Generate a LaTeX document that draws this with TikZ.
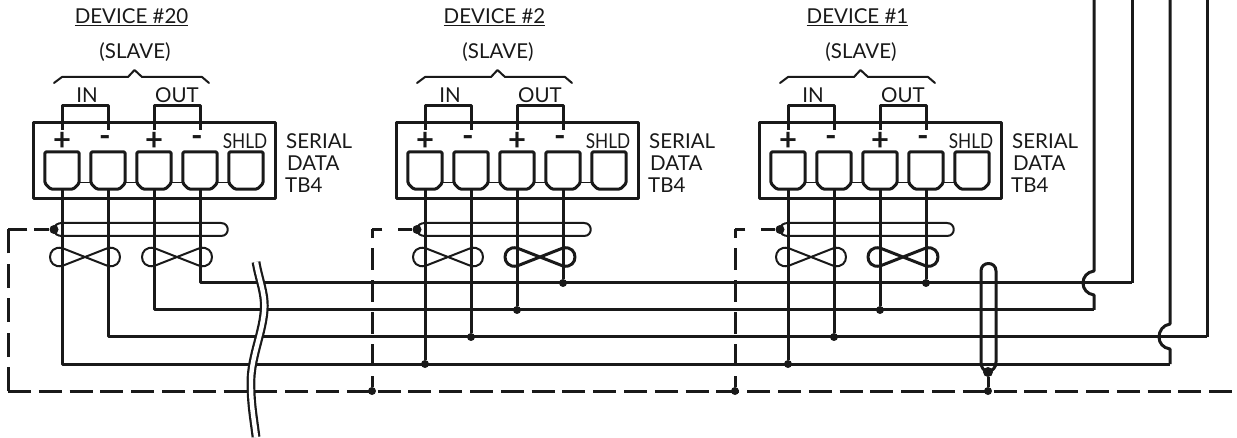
\documentclass[tikz,border=0pt]{standalone}
\usepackage{fontspec}
\setmainfont{Lato}
\begin{document}
\begin{tikzpicture}[x=1pt, y=-1pt, inner sep=0pt, line join=round, black!90,
  sigline/.style={draw, line width=3pt},
  thinline/.style={line width=2pt},
  dashline/.style={line width=3pt},
  junct/.style={circle, fill=black!90, minimum size=8pt},
  termbox/.style={minimum width=34pt, minimum height=37pt},
  big/.style={font=\fontsize{20.5}{20.5}\selectfont},
  sign/.style={font=\fontsize{31}{31}\selectfont\bfseries}]
\useasboundingbox (0,0) rectangle (1237,438);

% one device per shift
\foreach \d/\off/\num/\tw in {t/0/20/2,b/363/2/3,a/726/1/3}
{
\begin{scope}[shift={(\off,0)}]
\node[big] (title\d) at (131.5,17) {\underline{DEVICE \#\num}};
\node[big] (slave\d) at (135,52) {(SLAVE)};
\node[big] (in\d) at (87,95) {IN};
\node[big] (out\d) at (177,95) {OUT};
\draw[thinline, line cap=round] (54,83) -- (62,77) -- (128,77) -- (134.5,70) -- (142,77) -- (202,77) -- (209,83);

\node[draw, line width=3pt, minimum width=242pt, minimum height=76pt] (block\d) at (154,161) {};
\node[big, anchor=west] (ser\d) at (286,141) {SERIAL};
\node[big, anchor=west] (dat\d) at (287,163) {DATA};
\node[big, anchor=west] (tbf\d) at (285,185) {TB4};

\foreach \i/\x in {1/62,2/108,3/154,4/200,5/246}
{
\node[termbox] (term\d\i) at (\x,170.5) {};
\draw[line width=3pt, rounded corners=1.5pt] (term\d\i.north west) -- (term\d\i.north east) -- ([yshift=6pt]term\d\i.south east) -- ([xshift=-6pt]term\d\i.south east) -- ([xshift=6pt]term\d\i.south west) -- ([yshift=6pt]term\d\i.south west) -- cycle;
}
\foreach \i/\j in {1/2,2/3,3/4,4/5}
{
\draw[line width=1pt] ([yshift=-12.5pt]term\d\i.east) -- ([yshift=-12.5pt]term\d\j.west);
}
\node[sign] (plusa\d) at (62,141) {+};
\node[sign] (minusa\d) at (105,141) {-};
\node[sign] (plusb\d) at (154,141) {+};
\node[sign] (minusb\d) at (197,141) {-};
\node[big, xscale=.84, transform shape] (shld\d) at (245,141.5) {SHLD};

\coordinate (ina\d) at (62,130);
\coordinate (inb\d) at (108,130);
\coordinate (outa\d) at (154,130);
\coordinate (outb\d) at (200,130);
\draw[sigline] (ina\d) -- (62,106) -- (108,106) -- (inb\d);
\draw[sigline] (outa\d) -- (154,106) -- (200,106) -- (outb\d);

% shield sleeve and twists
\node[junct, minimum size=9pt] (drain\d) at (54,229.5) {};
\draw[thinline] (drain\d.center) .. controls (54,225) and (58,223) .. (62,223) -- (221,223) .. controls (230,223) and (230,236) .. (221,236) -- (62,236) .. controls (58,236) and (54,234) .. (drain\d.center);
\draw[thinline] (62,248) -- (108,266) .. controls (124,269) and (124,245) .. (108,248) -- (62,266) .. controls (46,269) and (46,245) .. (62,248);
\draw[line width=\tw pt] (154,248) -- (200,266) .. controls (216,269) and (216,245) .. (200,248) -- (154,266) .. controls (138,269) and (138,245) .. (154,248);
\end{scope}
}

% junctions on the bus
\foreach \d/\off in {b/363,a/726}
{
\node[junct] (ja\d) at (62+\off,364) {};
\node[junct] (jb\d) at (108+\off,337) {};
\node[junct] (jc\d) at (154+\off,310) {};
\node[junct] (jd\d) at (200+\off,283) {};
\node[junct] (js\d) at (9+\off,391) {};
\draw[sigline] (term\d1.south) -- (ja\d);
\draw[sigline] (term\d2.south) -- (jb\d);
\draw[sigline] (term\d3.south) -- (jc\d);
\draw[sigline] (term\d4.south) -- (jd\d);
\coordinate (drop\d) at (9+\off,229.5);
\draw[dashline, dash pattern=on 14pt off 16pt on 15pt off 0pt] (drain\d) -- (drop\d);
\draw[dashline, dash pattern=on 22pt off 10pt, dash phase=11pt] (js\d) -- (drop\d);
}

% far end of the bus
\coordinate (ea) at (1170,364);
\coordinate (eb) at (1094,310);
\coordinate (ec) at (1207,337);
\coordinate (ed) at (1132,283);
\coordinate (ta) at (1170,0);
\coordinate (tb) at (1094,0);
\coordinate (tc) at (1207,0);
\coordinate (td) at (1132,0);
\draw[sigline] (termt1.south) |- (ea);
\draw[sigline] (termt2.south) |- (ec);
\draw[sigline] (termt3.south) |- (eb);
\draw[sigline] (termt4.south) |- (ed);
\draw[sigline] (ed) -- (td);
\draw[sigline] (ec) -- (tc);
\draw[sigline] (tb) -- (1094,271) .. controls (1087,272) and (1083,277) .. (1083,283) .. controls (1083,289) and (1087,294) .. (1094,295) -- (eb);
\draw[sigline] (ta) -- (1170,324) .. controls (1163,325) and (1159,331) .. (1159,337) .. controls (1159,343) and (1163,348) .. (1170,349) -- (ea);

% shield return
\coordinate (cnr) at (8,229.5);
\coordinate (cnl) at (8,391);
\coordinate (send) at (1232,391);
\draw[dashline, dash pattern=on 23pt off 7.8pt] (cnl) -- (send);
\draw[dashline, dash pattern=on 24pt off 10.4pt] (cnl) -- (cnr);
\draw[dashline, dash pattern=on 15pt off 7pt on 20pt off 0pt] (draint) -- (cnr);

% sleeve at the right
\node[junct, minimum size=10pt] (drainr) at (988,372) {};
\node[junct] (jsr) at (988,391) {};
\draw[sigline] (drainr) -- (jsr);
\draw[line width=3pt] (drainr.center) .. controls (984,371) and (981,368) .. (981,362) -- (981,271) .. controls (981,261) and (996,261) .. (996,271) -- (996,362) .. controls (996,368) and (992,371) .. (drainr.center);

% break
\draw[double=white, double distance=4.4pt, line width=2.2pt] (256,262) .. controls (259,280) and (266,295) .. (264,312) .. controls (262,335) and (250,360) .. (251,385) .. controls (251,405) and (254,420) .. (256,437);
\end{tikzpicture}
\end{document}
